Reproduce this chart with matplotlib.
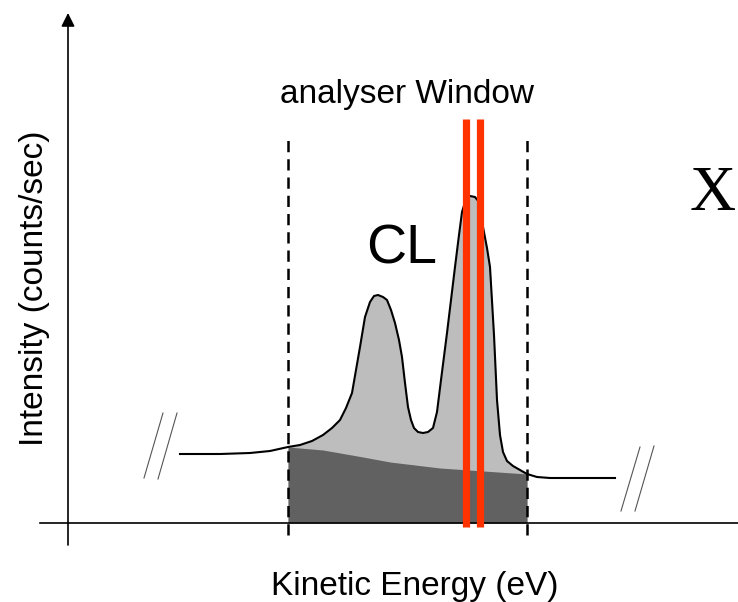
import matplotlib.pyplot as plt
import numpy as np

plt.rcParams["font.family"] = ["Liberation Sans", "DejaVu Sans"]

# schematic spectrum (arbitrary units, origin at the axes corner)
energy = [112, 152, 182, 202, 220, 232, 244, 255, 264, 272, 278, 284, 288, 292, 297,
          302, 306, 310, 315, 319, 323, 327, 331, 334, 337, 340, 343, 346, 350, 355,
          360, 365, 369, 373, 379, 383, 387, 391, 394, 398, 402, 407, 411, 415, 419,
          422, 426, 429, 432, 435, 439, 445, 452, 459, 469, 482, 512, 547]
intensity = [69, 69, 70, 72, 76, 78, 82, 88, 95, 103, 115, 130, 153, 176, 206,
             221, 227, 228, 226, 223, 213, 200, 183, 166, 140, 116, 103, 95, 91, 90,
             91, 95, 111, 143, 190, 223, 256, 288, 311, 324, 327, 326, 321, 296, 275,
             256, 188, 123, 88, 71, 62, 57, 53, 49, 46, 45, 45, 45]

# background under the core level (dark region)
bg_energy = [220, 255, 295, 322, 372, 459]
bg_intensity = [76, 73, 66, 61, 55, 49]

window = [220, 459]          # analyser window edges
red_lines = [397.6, 412.0]   # selected energies

fig = plt.figure(figsize=(7.38, 6.02), dpi=100)
ax = fig.add_axes([0, 0, 1, 1])
ax.set_xlim(-68, 670)
ax.set_ylim(-79, 523)
ax.axis("off")

e = np.array(energy)
i = np.array(intensity)
inside = (e >= window[0]) & (e <= window[1])
ax.fill_between(e[inside], 0, i[inside], color="#bdbdbd", lw=0, zorder=1)
ax.fill_between(bg_energy, 0, bg_intensity, color="#616161", lw=0, zorder=2)
ax.plot(e, i, color="black", lw=1.5, zorder=3, solid_joinstyle="round")

for w in window:
    ax.plot([w, w], [-12, 388], color="black", lw=1.8, ls=(0, (4.5, 2.8)), zorder=4)

for r in red_lines:
    ax.plot([r, r], [-4, 404], color="#ff3300", lw=5.2, solid_capstyle="butt", zorder=5)

# axes
ax.plot([-28, 670], [0, 0], color="black", lw=1.2, zorder=4)
ax.annotate("", xy=(0, 510), xytext=(0, -22),
            arrowprops=dict(arrowstyle="-|>,head_length=0.5,head_width=0.25",
                            lw=1.2, color="black", mutation_scale=16,
                            shrinkA=0, shrinkB=0))

# axis break marks
for x0, x1, y0, y1 in [(95, 76, 110, 45), (109, 90, 110, 44),
                       (572, 553, 76, 12), (586, 567, 77, 12)]:
    ax.plot([x0, x1], [y0, y1], color="#555555", lw=0.8)

ax.text(339.5, 420, "analyser Window", fontsize=24, ha="center", va="baseline")
ax.text(334, 260, "CL", fontsize=40, ha="center", va="baseline")
ax.text(668, 313, "X", fontsize=46, ha="right", va="baseline",
        family=["Liberation Serif", "DejaVu Serif"])
ax.text(347, -72, "Kinetic Energy (eV)", fontsize=24, ha="center", va="baseline")
ax.text(-25, 235, "Intensity (counts/sec)", fontsize=24, rotation=90,
        rotation_mode="anchor", ha="center", va="baseline")

fig.savefig("out.png", dpi=100)
